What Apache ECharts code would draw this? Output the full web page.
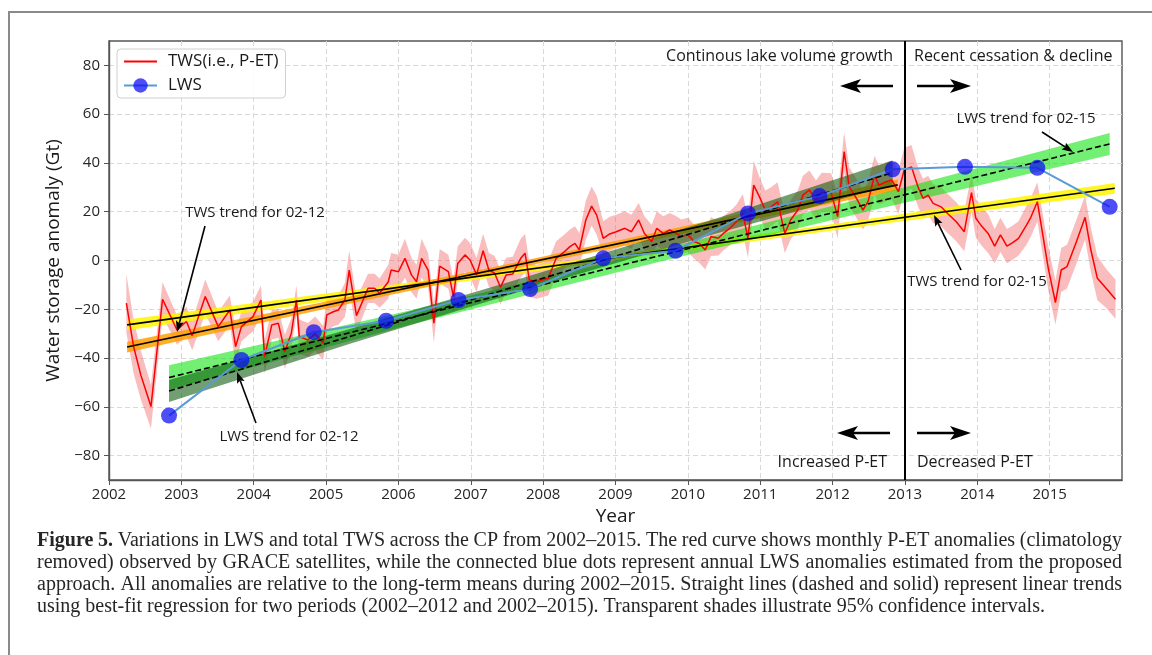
<!DOCTYPE html>
<html><head><meta charset="utf-8">
<script src="https://cdn.jsdelivr.net/npm/echarts@6/dist/echarts.min.js"></script>
<style>html,body{margin:0;padding:0;background:#fff}#c{width:1152px;height:655px}</style>
</head><body><div id="c"></div>
<script>
// ---------------- DATA ----------------
const twsYears = [
 2002.24,2002.34,2002.44,2002.58,2002.74,2002.94,
 2003.07,2003.15,2003.33,2003.51,2003.67,2003.75,2003.83,2003.99,
 2004.10,2004.15,2004.25,2004.34,2004.43,2004.52,2004.59,2004.63,2004.75,2004.85,2004.96,
 2005.01,2005.10,2005.17,2005.26,2005.32,2005.42,2005.58,2005.67,2005.74,2005.86,2005.90,
 2006.00,2006.09,2006.18,2006.25,2006.32,2006.41,2006.49,2006.57,2006.69,2006.76,2006.82,2006.92,2006.99,
 2007.08,2007.17,2007.25,2007.33,2007.41,2007.49,2007.58,2007.69,2007.75,2007.81,2007.91,
 2008.07,2008.18,2008.27,2008.37,2008.44,2008.50,2008.59,2008.67,2008.74,2008.83,2008.92,
 2009.01,2009.13,2009.22,2009.32,2009.40,2009.50,2009.57,2009.66,2009.75,2009.84,2009.91,
 2010.00,2010.09,2010.16,2010.24,2010.32,2010.42,2010.49,2010.58,2010.67,2010.76,2010.83,2010.91,2010.99,
 2011.07,2011.15,2011.24,2011.34,2011.42,2011.52,2011.59,2011.68,2011.77,2011.85,2011.98,
 2012.07,2012.16,2012.23,2012.33,2012.42,2012.49,2012.58,2012.64,2012.74,2012.82,2012.91,2012.99,
 2013.09,2013.18,2013.25,2013.32,2013.39,2013.50,2013.59,2013.71,2013.82,2013.92,2013.98,
 2014.05,2014.15,2014.24,2014.32,2014.41,2014.49,2014.57,2014.68,2014.74,2014.83,2014.98,
 2015.08,2015.16,2015.24,2015.37,2015.49,2015.57,2015.66,2015.78,2015.91
];
const twsValues = [
 -17.5,-35.3,-47,-59.9,-15.9,-28.5,
 -25,-30.8,-14.8,-27.1,-20.3,-35.3,-27.1,-23,
 -16.2,-39.4,-26.4,-25.7,-37.4,-29.8,-16.2,-31.2,-32.6,-30,-33.9,
 -22.3,-21,-20.3,-16.2,-3.9,-22.6,-11.4,-11.4,-13.4,-8.7,-3.9,
 -4.6,0.9,-5.9,-8.7,0.9,-3.9,-25.7,-2.3,-4.6,-14.8,-1.2,2.3,0.2,
 -5.9,4,-3.9,-5.2,-11,-5.9,-5.5,0.9,3,-8,-8.7,
 -7.3,0.9,3,5.7,7,4.3,16.6,22.3,18.6,9.1,10.9,
 11.8,13.2,11.8,16.6,11.1,7.7,13.2,11.1,12.5,11.1,9.8,
 10.5,7.7,7,4.3,9.8,9.1,11.1,13.2,15.9,19.3,9.1,30.9,26.1,
 20.7,22,24.1,11.1,16.6,20.7,26.8,28.9,24.8,28,27.8,
 18,44.6,30.2,25.5,20.7,24.1,35,30.9,32.3,33,28.2,37.1,
 38.4,30.2,25.5,26.8,23.4,22,19.3,15.9,11.8,27.8,17.3,
 14.5,11.1,5.9,10.5,5.9,7.3,9.1,14.5,17.7,24.1,-3,
 -17.3,-3.9,-2.5,7.7,17.7,4.3,-7.3,-11.4,-15.9
];
const twsErr = [
 12,11,10,9,7,6,
 6,6,7,6,6,7,6,6,
 6,7,6,6,7,6,6,7,7,7,7,
 7,6,6,7,8,7,6,6,6,7,7,
 7,8,7,7,8,7,8,7,7,7,7,7,7,
 7,7,7,7,7,7,7,8,8,7,7,
 7,7,7,7,7,7,8,8,8,7,7,
 7,7,7,7,7,7,7,7,7,7,7,
 7,7,8,8,8,7,7,7,7,8,8,10,8,
 8,8,8,8,8,8,8,8,8,8,8,
 9,8,8,8,8,8,8,8,8,8,9,9,
 9,8,8,8,8,8,8,8,8,8,8,
 8,8,7,7,7,7,7,8,8,8,9,
 9,9,9,9,9,9,9,8,8
];
const lwsYears  = [2002.83,2003.83,2004.83,2005.83,2006.83,2007.82,2008.83,2009.83,2010.83,2011.82,2012.83,2013.83,2014.83,2015.83];
const lwsValues = [-63.6,-40.8,-29.4,-24.7,-16.2,-11.7,0.9,4.0,19.3,26.4,37.4,38.4,38.0,22.0];

// trend lines (end points) and 95% confidence bands
const tws0212LineX = [2002.25, 2012.9];
const tws0212LineY = [-35.5, 31.0];
const tws0212BandX = [2002.25, 2004.9, 2007.6, 2010.25, 2012.9];
const tws0212BandLo = [-37.7, -20.4, -3.3, 12.9, 28.8];
const tws0212BandHi = [-33.3, -17.4, -0.9, 16.0, 33.2];

const tws0215LineX = [2002.25, 2015.9];
const tws0215LineY = [-26.4, 29.6];
const tws0215BandX = [2002.25, 2005.66, 2009.08, 2012.49, 2015.9];
const tws0215BandLo = [-28.6, -13.8, 0.5, 14.2, 27.4];
const tws0215BandHi = [-24.2, -11.0, 2.7, 17.0, 31.8];

const lws0212LineX = [2002.83, 2012.83];
const lws0212LineY = [-53.5, 36.0];
const lws0212BandX = [2002.83, 2005.33, 2007.83, 2010.33, 2012.83];
const lws0212BandLo = [-58.0, -34.1, -11.4, 10.6, 31.0];
const lws0212BandHi = [-49.0, -28.1, -6.1, 16.6, 41.0];

const lws0215LineX = [2002.83, 2015.83];
const lws0215LineY = [-48.0, 47.8];
const lws0215BandX = [2002.83, 2006.08, 2009.33, 2012.58, 2015.83];
const lws0215BandLo = [-53.0, -27.0, -2.6, 20.8, 43.3];
const lws0215BandHi = [-43.0, -21.0, 2.4, 26.8, 52.3];

const xTicks = [2002,2003,2004,2005,2006,2007,2008,2009,2010,2011,2012,2013,2014,2015];
const yTicks = [-80,-60,-40,-20,0,20,40,60,80];
const dividerYear = 2013;

const captionLines = [
 'Figure 5. Variations in LWS and total TWS across the CP from 2002–2015. The red curve shows monthly P-ET anomalies (climatology',
 'removed) observed by GRACE satellites, while the connected blue dots represent annual LWS anomalies estimated from the proposed',
 'approach. All anomalies are relative to the long-term means during 2002–2015. Straight lines (dashed and solid) represent linear trends',
 'using best-fit regression for two periods (2002–2012 and 2002–2015). Transparent shades illustrate 95% confidence intervals.'
];

// ---------------- BUILD ----------------
const FONT = '"Open Sans", "DejaVu Sans", sans-serif';
const pairs = (xs, ys) => xs.map((x, i) => [x, ys[i]]);

// confidence band drawn as one polygon through the axes' own scales
function band(id, xs, lo, hi, color, z) {
  return {
    type:'custom', name:id, silent:true, z:z,
    data: xs.map((x, i) => [x, lo[i], hi[i]]),
    encode:{x:0, y:[1,2]},
    renderItem: function(params, api){
      if (params.dataIndexInside !== 0) return null;
      const n = params.dataInsideLength, top = [], bot = [];
      for (let i = 0; i < n; i++) {
        const x = api.value(0, i);
        top.push(api.coord([x, api.value(2, i)]));
        bot.push(api.coord([x, api.value(1, i)]));
      }
      return {type:'polygon', shape:{points: top.concat(bot.reverse())}, style:{fill: color}};
    }
  };
}
function trend(id, xs, ys, dashed, z) {
  return {type:'line', name:id, data:pairs(xs, ys), symbol:'none', silent:true, z:z,
    lineStyle:{color:'#000', width:1.6, type: dashed ? [6,3] : 'solid'}};
}

const series = [
  band('twsBand', twsYears, twsValues.map((v,i)=>v-twsErr[i]), twsValues.map((v,i)=>v+twsErr[i]), 'rgba(240,90,90,0.4)', 1),
  band('tws0215Band', tws0215BandX, tws0215BandLo, tws0215BandHi, 'rgba(255,245,0,0.85)', 2),
  band('tws0212Band', tws0212BandX, tws0212BandLo, tws0212BandHi, 'rgba(255,160,0,0.85)', 2),
  band('lws0215Band', lws0215BandX, lws0215BandLo, lws0215BandHi, 'rgba(0,225,0,0.55)', 2),
  band('lws0212Band', lws0212BandX, lws0212BandLo, lws0212BandHi, 'rgba(10,90,10,0.58)', 2),
  {type:'line', name:'TWS(i.e., P-ET)', data:pairs(twsYears, twsValues), symbol:'none', z:3,
   lineStyle:{color:'#ff0000', width:1.5}, itemStyle:{color:'#ff0000'}},
  trend('tws0212Line', tws0212LineX, tws0212LineY, false, 4),
  trend('tws0215Line', tws0215LineX, tws0215LineY, false, 4),
  trend('lws0212Line', lws0212LineX, lws0212LineY, true, 4),
  trend('lws0215Line', lws0215LineX, lws0215LineY, true, 4),
  {type:'line', name:'LWS', data:pairs(lwsYears, lwsValues), symbol:'circle', symbolSize:16, z:5,
   lineStyle:{color:'#5a9bd4', width:2}, itemStyle:{color:'rgba(10,10,245,0.72)'},
   markLine:{silent:true, symbol:['none','none'], label:{show:false}, animation:false,
     lineStyle:{color:'#000', width:2, type:'solid'}, data:[{xAxis:dividerYear}]}}
];

// annotation helpers (pixel space)
function arrow(x1,y1,x2,y2,w,hl,hw,notch){
  const dx=x2-x1, dy=y2-y1, L=Math.hypot(dx,dy), ux=dx/L, uy=dy/L, nx=-uy, ny=ux;
  const bx=x2-ux*hl, by=y2-uy*hl;
  const qx=x2-ux*(hl-notch), qy=y2-uy*(hl-notch);
  return [
    {type:'line', shape:{x1:x1,y1:y1,x2:qx,y2:qy}, style:{stroke:'#000', lineWidth:w}, z:100},
    {type:'polygon', shape:{points:[[x2,y2],[bx+nx*hw,by+ny*hw],[qx,qy],[bx-nx*hw,by-ny*hw]]}, style:{fill:'#000'}, z:100}
  ];
}
function label(text, x, y, align, size){
  return {type:'text', x:x, y:y, z:100, style:{text:text, fill:'#1a1a1a', font:size+'px '+FONT, align:align, verticalAlign:'middle'}};
}

const graphics = [
  {type:'rect', shape:{x:9, y:12, width:1160, height:660}, style:{fill:'none', stroke:'#8a8a8a', lineWidth:2}, z:0},
  label('Continous lake volume growth', 893, 56, 'right', 16),
  label('Recent cessation & decline', 914, 56, 'left', 16),
  label('Increased P-ET', 887, 462, 'right', 16),
  label('Decreased P-ET', 917, 462, 'left', 16),
  label('TWS trend for 02-12', 255, 213, 'center', 15),
  label('LWS trend for 02-12', 289, 437, 'center', 15),
  label('LWS trend for 02-15', 1026, 119, 'center', 15),
  label('TWS trend for 02-15', 977, 282, 'center', 15)
].concat(
  arrow(893, 86, 840, 86, 2.6, 21, 7, 5),
  arrow(917, 86, 971, 86, 2.6, 21, 7, 5),
  arrow(890, 433, 837, 433, 2.6, 21, 7, 5),
  arrow(917, 433, 971, 433, 2.6, 21, 7, 5),
  arrow(205, 226, 177, 332, 1.6, 11, 4, 2),
  arrow(256, 423, 237, 372, 1.6, 11, 4, 2),
  arrow(1042, 132, 1073, 152, 1.6, 11, 4, 2),
  arrow(961, 270, 934, 215, 1.6, 11, 4, 2)
);

// caption, justified word by word
(function(){
  const ctx = document.createElement('canvas').getContext('2d');
  const fam = '"Liberation Serif", "DejaVu Serif", serif';
  const fnt = (b, s) => (b ? 'bold ' : '') + s + 'px ' + fam;
  const meas = (t, b, s) => { ctx.font = fnt(b, s); return ctx.measureText(t).width; };
  let size = 18;
  const nat4 = meas(captionLines[3], false, size);
  size = Math.max(15, Math.min(20, size * 1015 / nat4));
  const left = 37, right = 1122, ys = [541, 563, 585, 607];
  captionLines.forEach((line, li) => {
    const words = line.split(' ');
    const bold = words.map((w, i) => li === 0 && i < 2);
    const ws = words.map((w, i) => meas(w, bold[i], size));
    const sum = ws.reduce((a, b) => a + b, 0);
    const gap = li < 3 ? (right - left - sum) / (words.length - 1) : meas(' ', false, size);
    let x = left;
    words.forEach((w, i) => {
      graphics.push({type:'text', x:x, y:ys[li], z:100,
        style:{text:w, fill:'#262626', font:fnt(bold[i], size), align:'left', verticalAlign:'middle'}});
      x += ws[i] + gap;
    });
  });
})();

const chart = echarts.init(document.getElementById('c'), null, {renderer:'canvas'});
chart.setOption({
  animation:false,
  backgroundColor:'#fff',
  grid:{left:109, right:30, top:41, bottom:175, show:true, borderColor:'#555', borderWidth:1.4, backgroundColor:'transparent'},
  legend:{
    data:[{name:'TWS(i.e., P-ET)', itemStyle:{opacity:0}}, {name:'LWS'}],
    orient:'vertical', left:117, top:49,
    itemWidth:33, itemHeight:18, itemGap:7, padding:[4,7,4,6],
    borderColor:'#cfcfcf', borderWidth:1, borderRadius:4, backgroundColor:'rgba(255,255,255,0.85)',
    textStyle:{fontFamily:FONT, fontSize:17, color:'#1a1a1a', padding:[0,0,0,6]},
    selectedMode:false
  },
  xAxis:{
    type:'value', min:2002, max:2016, interval:1,
    name:'Year', nameLocation:'middle', nameGap:19,
    nameTextStyle:{fontFamily:FONT, fontSize:19, color:'#1a1a1a'},
    axisLine:{show:true, onZero:false, lineStyle:{color:'#555', width:1.4}},
    axisTick:{show:true, length:5, lineStyle:{color:'#555'}, customValues:xTicks},
    axisLabel:{fontFamily:FONT, fontSize:15, color:'#262626', margin:7, customValues:xTicks,
      formatter:v => (v >= 2016 ? '' : String(Math.round(v)))},
    splitLine:{show:true, lineStyle:{color:'#d9d9d9', width:1, type:[5,3]}}
  },
  yAxis:{
    type:'value', min:-90, max:90, splitNumber:9,
    name:'Water storage anomaly (Gt)', nameLocation:'middle', nameGap:37,
    nameTextStyle:{fontFamily:FONT, fontSize:19, color:'#1a1a1a'},
    axisLine:{show:true, onZero:false, lineStyle:{color:'#555', width:1.4}},
    axisTick:{show:true, length:5, lineStyle:{color:'#555'}, customValues:yTicks},
    axisLabel:{fontFamily:FONT, fontSize:15, color:'#262626', margin:9, customValues:yTicks,
      formatter:v => (Math.abs(v) >= 90 ? '' : (v < 0 ? '\u2212' + Math.abs(v) : String(v)))},
    splitLine:{show:true, lineStyle:{color:'#d9d9d9', width:1, type:[5,3]}}
  },
  series:series,
  graphic:graphics
});
</script></body></html>
